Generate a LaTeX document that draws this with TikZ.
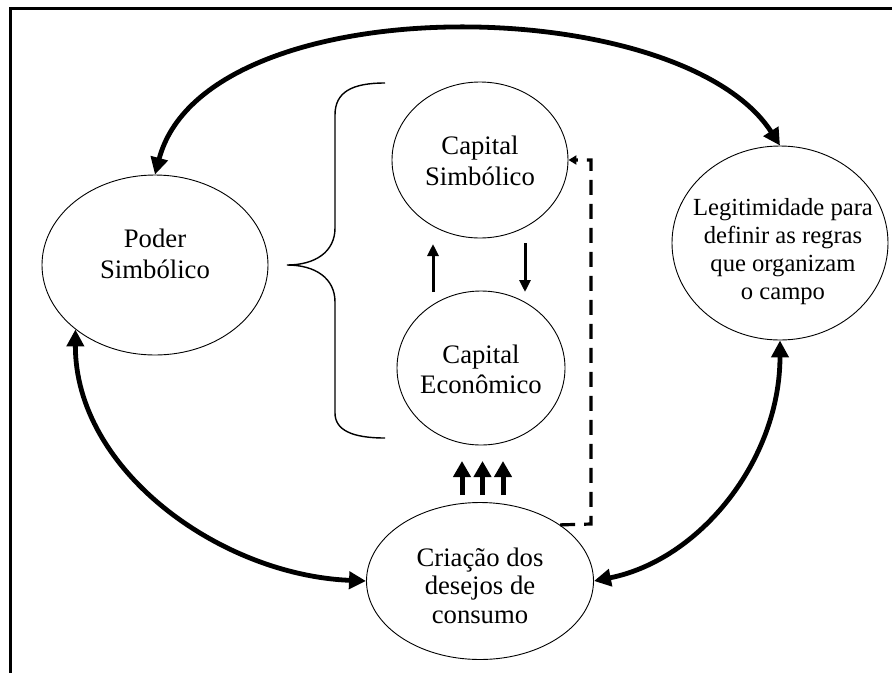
\documentclass[tikz,border=0pt]{standalone}
\usepackage{fontspec}
\setmainfont{Liberation Serif}
\usetikzlibrary{arrows.meta,shapes.geometric}
\begin{document}
\begin{tikzpicture}[x=1pt,y=-1pt,
  bubble/.style={ellipse, draw, line width=0.9pt, inner sep=0pt},
  caption/.style={align=center, inner sep=0pt, font=\fontsize{26.7}{30.5}\selectfont},
  smallcaption/.style={caption, font=\fontsize{24.6}{28}\selectfont},
  bond/.style={line width=4.8pt,
    {Triangle[length=17pt,width=17pt]}-{Triangle[length=17pt,width=17pt]}},
  flow/.style={line width=3pt, -{Triangle[length=12pt,width=11pt]}},
  push/.style={line width=5pt, -{Triangle[length=16pt,width=17pt]}},
  feedback/.style={line width=3.2pt, dash pattern=on 15pt off 9pt,
    -{Triangle[length=8pt,width=9pt]}},
  frame/.style={line width=3pt},
  brace/.style={line width=1.4pt}
]
\useasboundingbox (0,0) rectangle (892,673);

% outer frame (top and left edges only)
\draw[frame] (892,8.5) -- (10,8.5) -- (10,673);

% ellipses
\node[bubble, minimum width=226pt, minimum height=180pt] (poder)  at (155,265) {};
\node[bubble, minimum width=176pt, minimum height=156pt] (capsim) at (480,160) {};
\node[bubble, minimum width=168pt, minimum height=154pt] (capeco) at (481,368) {};
\node[bubble, minimum width=216pt, minimum height=194pt] (legit)  at (780,243) {};
\node[bubble, minimum width=227pt, minimum height=157pt] (crea)   at (480,581) {};

% texts
\node[caption] (poder-t)  at (155,254)   {Poder\\Simbólico};
\node[caption] (capsim-t) at (480,161)   {Capital\\Simbólico};
\node[caption] (capeco-t) at (481,369.5) {Capital\\Econômico};
\node[smallcaption] (legit-t) at (783,252) {Legitimidade para\\definir as regras\\que organizam\\o campo};
\node[caption, font=\fontsize{26.7}{28.5}\selectfont] (crea-t) at (480,585.5) {Criação dos\\desejos de\\consumo};

% brace grouping the two capitals
\draw[brace] (385,83) .. controls (352,83) and (335,92) .. (335,115)
  -- (335,228) .. controls (335,252) and (315,265) .. (287,265)
  .. controls (315,265) and (335,278) .. (335,302)
  -- (335,413) .. controls (335,430) and (352,438) .. (385,438);

% exchange between the capitals
\coordinate (up-s)   at (433,292);
\coordinate (up-e)   at (433,244);
\coordinate (down-s) at (525,243);
\coordinate (down-e) at (525,292);
\draw[flow] (up-s) -- (up-e);
\draw[flow] (down-s) -- (down-e);

% three pushes from desire creation into economic capital
\foreach \x [count=\i] in {462,482.5,503}{
  \coordinate (p\i-s) at (\x,495);
  \coordinate (p\i-e) at (\x,461);
  \draw[push] (p\i-s) -- (p\i-e);
}

% dashed feedback to symbolic capital
\coordinate (fb) at (591,524);
\draw[feedback] (crea.35.5) -- (fb) |- (capsim.east);

% outer cycle
\draw[bond] (poder.north) .. controls (205,-15) and (680,-10) .. (legit.north);
\draw[bond] (poder.219) .. controls (75,470) and (220,575) .. (crea.west);
\draw[bond] (legit.south) .. controls (780,460) and (700,560) .. (crea.east);
\end{tikzpicture}
\end{document}
